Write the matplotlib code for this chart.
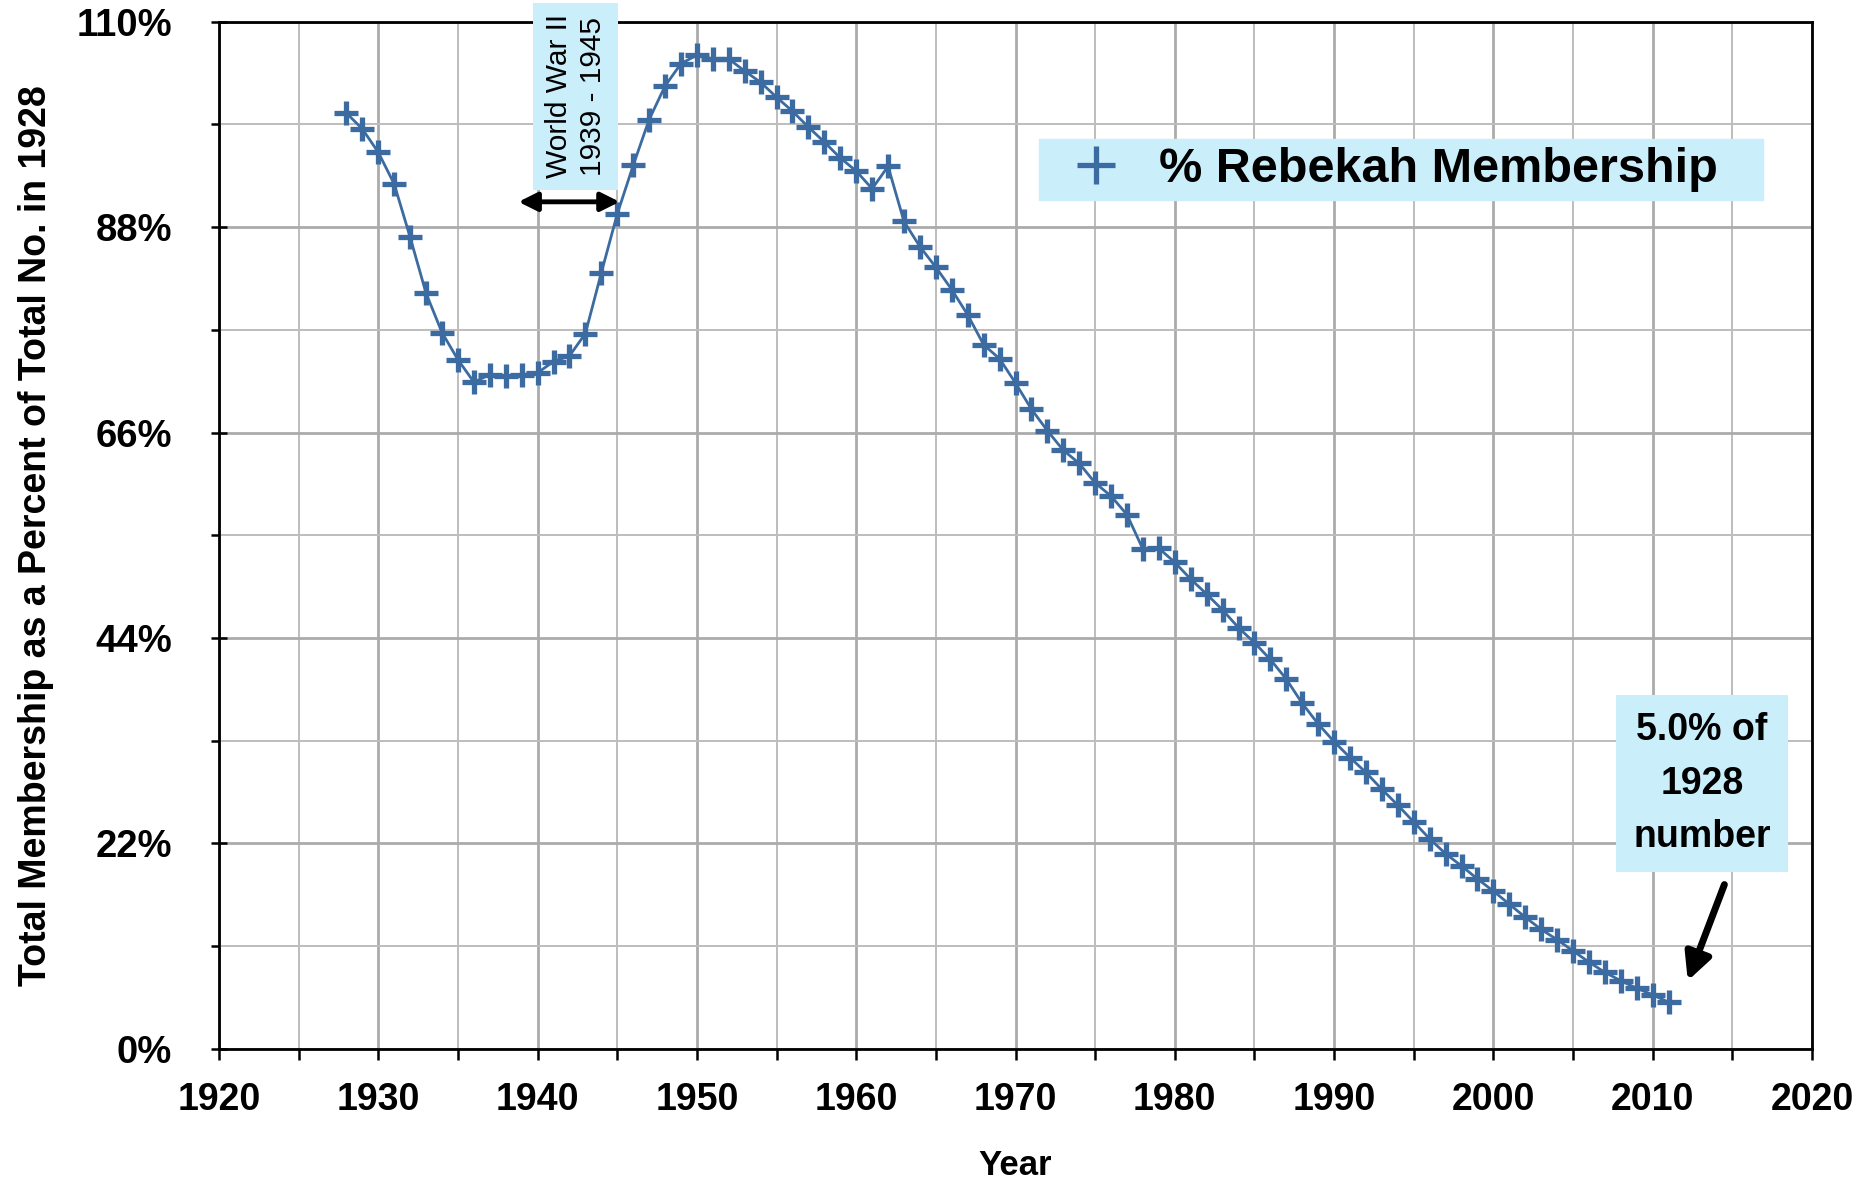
import matplotlib
matplotlib.use("Agg")
import matplotlib.pyplot as plt
from matplotlib.ticker import MultipleLocator, FuncFormatter

years = list(range(1928, 2012))
pct = [100.2, 98.5, 96.0, 92.6, 86.9, 80.9, 76.7, 73.8, 71.4, 72.2,
       72.0, 72.2, 72.4, 73.6, 74.2, 76.6, 83.1, 89.4, 94.6, 99.5,
       103.1, 105.5, 106.4, 106.0, 106.0, 104.7, 103.5, 101.9, 100.4, 98.7,
       97.1, 95.4, 94.0, 92.1, 94.5, 88.6, 85.9, 83.7, 81.3, 78.6,
       75.4, 73.9, 71.3, 68.5, 66.2, 64.1, 62.7, 60.6, 59.2, 57.2,
       53.5, 53.6, 52.1, 50.3, 48.7, 47.0, 45.1, 43.5, 41.7, 39.6,
       37.0, 34.8, 32.9, 31.2, 29.6, 27.8, 26.1, 24.3, 22.5, 20.9,
       19.6, 18.2, 16.9, 15.5, 14.1, 12.8, 11.7, 10.5, 9.3, 8.2,
       7.3, 6.5, 5.8, 5.0]
series_label = "% Rebekah Membership"
x_ticks = [1920, 1930, 1940, 1950, 1960, 1970, 1980, 1990, 2000, 2010, 2020]
y_ticks = [0, 22, 44, 66, 88, 110]
ww2_text = "World War II\n1939 - 1945"
ww2_span = [1939, 1945]
end_text = "5.0% of\n1928\nnumber"

plt.rcParams['font.family'] = ['Liberation Sans', 'DejaVu Sans']

color = '#3B6BA0'
box_col = '#CBEEFB'

fig = plt.figure(figsize=(18.75, 11.85), dpi=100)
ax = fig.add_axes([0.1168, 0.1148, 0.8496, 0.8670])

ax.plot(years, pct, color=color, lw=2.0, marker='+', ms=17, mew=3.8,
        label=series_label, zorder=3)

ax.set_xlim(1920, 2020)
ax.set_ylim(0, 110)
ax.set_xticks(x_ticks)
ax.xaxis.set_minor_locator(MultipleLocator(5))
ax.set_yticks(y_ticks)
ax.yaxis.set_minor_locator(MultipleLocator(11))
ax.yaxis.set_major_formatter(FuncFormatter(lambda v, p: f"{int(round(v))}%"))

ax.grid(which='major', color='#ABABAB', lw=2.0, zorder=0)
ax.grid(which='minor', color='#BDBDBD', lw=1.4, zorder=0)
ax.set_axisbelow(True)

for s in ax.spines.values():
    s.set_linewidth(2.0)
    s.set_color('black')

ax.tick_params(axis='x', which='both', direction='out', length=8, width=1.8,
               labelsize=27, pad=16)
ax.tick_params(axis='y', which='major', direction='inout', length=12, width=1.8,
               labelsize=27.5, pad=28)
ax.tick_params(axis='y', which='minor', direction='out', length=6, width=1.8)
for lab in ax.get_xticklabels() + ax.get_yticklabels():
    lab.set_fontweight('bold')

ax.set_xlabel("Year", fontsize=25, fontweight='bold', labelpad=22)
ax.set_ylabel("Total Membership as a Percent of Total No. in 1928", fontsize=27,
              fontweight='bold', labelpad=16)

leg = ax.legend(loc='upper left', bbox_to_anchor=(0.515, 0.8277, 0.454, 0.0583),
                mode='expand', borderaxespad=0, numpoints=1,
                prop={'weight': 'bold', 'size': 35}, frameon=True,
                fancybox=False, borderpad=0.17, handlelength=2.0,
                handletextpad=0.3, markerscale=1.6)
for h in leg.legend_handles:
    h.set_linestyle('none')
leg.get_frame().set_facecolor(box_col)
leg.get_frame().set_edgecolor(box_col)
leg.get_frame().set_alpha(1)

# WWII annotation
ax.annotate('', xy=(ww2_span[0] - 0.2, 90.7), xytext=(ww2_span[1] + 0.15, 90.7),
            arrowprops=dict(arrowstyle='<|-|>', color='black', lw=3.5,
                            mutation_scale=28, shrinkA=0, shrinkB=0), zorder=5)
ax.text(1942.4, 102.0, ww2_text, rotation=90, fontsize=21.5, ha='center',
        va='center', linespacing=1.3, clip_on=False, zorder=6,
        bbox=dict(boxstyle='square,pad=0.38', fc=box_col, ec='none'))

# end annotation
ax.text(2013.1, 28.4, end_text, fontsize=27, fontweight='bold', ha='center',
        va='center', linespacing=1.62, zorder=6,
        bbox=dict(boxstyle='square,pad=0.45', fc=box_col, ec='none'))
ax.annotate('', xy=(2012.2, 7.3), xytext=(2014.5, 17.6),
            arrowprops=dict(arrowstyle='-|>', color='black', lw=5,
                            mutation_scale=40, shrinkA=0, shrinkB=0), zorder=5)

fig.savefig('out.png', dpi=100)
